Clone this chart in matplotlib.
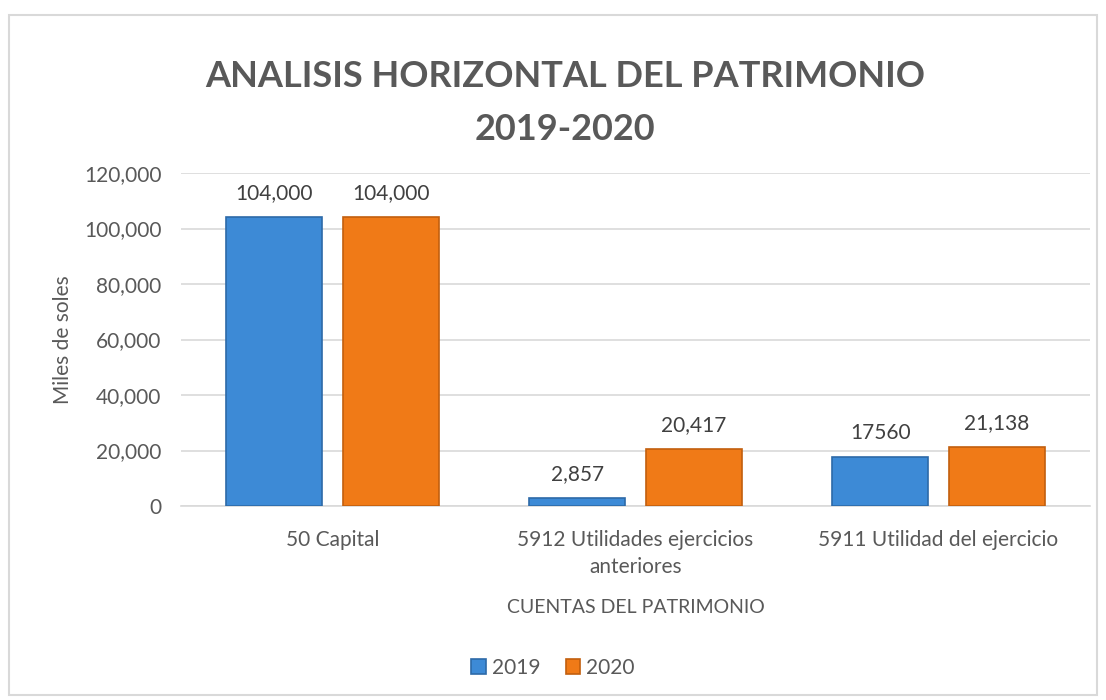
import numpy as np
import matplotlib
matplotlib.use("Agg")
from matplotlib import pyplot as plt
from matplotlib.patches import Rectangle
from matplotlib.ticker import FuncFormatter

categories = ["50 Capital", "5912 Utilidades ejercicios\nanteriores", "5911 Utilidad del ejercicio"]
values_2019 = [104000, 2857, 17560]
values_2020 = [104000, 20417, 21138]
labels_2019 = ["104,000", "2,857", "17560"]
labels_2020 = ["104,000", "20,417", "21,138"]

plt.rcParams["font.family"] = ["Lato", "DejaVu Sans"]
grey = "#595959"
blue = "#3d8ad6"
orange = "#f07a17"

fig = plt.figure(figsize=(11.06, 7.0), dpi=100)
fig.patches.append(Rectangle((9 / 1106, 5 / 700), 1088 / 1106, 680 / 700,
                             transform=fig.transFigure, fill=False,
                             edgecolor="#d9d9d9", linewidth=1.5))

ax = fig.add_axes([181 / 1106, 1 - 506 / 700, 909 / 1106, 333 / 700])
x = np.arange(len(categories))
w = 0.315
off = 0.1925
b1 = ax.bar(x - off, values_2019, w, color=blue, edgecolor="#2d6aa8", linewidth=1.2, label="2019", zorder=3)
b2 = ax.bar(x + off, values_2020, w, color=orange, edgecolor="#c25f0e", linewidth=1.2, label="2020", zorder=3)

for bars, labs in [(b1, labels_2019), (b2, labels_2020)]:
    for r, t in zip(bars, labs):
        ax.annotate(t, (r.get_x() + r.get_width() / 2, r.get_height()),
                    xytext=(0, 10), textcoords="offset points",
                    ha="center", va="bottom", fontsize=15, color="#404040")

ax.set_xlim(-0.5, 2.5)
ax.set_ylim(0, 120000)
ax.set_yticks(np.arange(0, 120001, 20000))
ax.yaxis.set_major_formatter(FuncFormatter(lambda v, p: f"{v:,.0f}"))
ax.grid(axis="y", color="#d9d9d9", linewidth=1.2, zorder=0)
ax.set_xticks(x)
ax.set_xticklabels(categories, fontsize=15, color=grey, linespacing=1.45)
ax.tick_params(axis="y", labelsize=15, labelcolor=grey, length=0, pad=14)
ax.tick_params(axis="x", length=0, pad=17)
for s in ["top", "right", "left"]:
    ax.spines[s].set_visible(False)
ax.spines["bottom"].set_color("#d9d9d9")
ax.spines["bottom"].set_linewidth(1.2)

ax.set_ylabel("Miles de soles", fontsize=15, color=grey, labelpad=8)
ax.set_xlabel("CUENTAS DEL PATRIMONIO", fontsize=14, color=grey, labelpad=16)

fig.text(565 / 1106, 1 - 103 / 700, "ANALISIS HORIZONTAL DEL PATRIMONIO\n2019-2020",
         ha="center", va="center", fontsize=26, fontweight="bold", color=grey,
         linespacing=1.75)

fig.legend(handles=[b1, b2], loc="center", bbox_to_anchor=(0.5, 1 - 668 / 700),
           ncol=2, frameon=False, fontsize=15, labelcolor=grey,
           handlelength=0.7, handleheight=0.7, handletextpad=0.3, columnspacing=1.2)

plt.savefig("out.png", dpi=100)
